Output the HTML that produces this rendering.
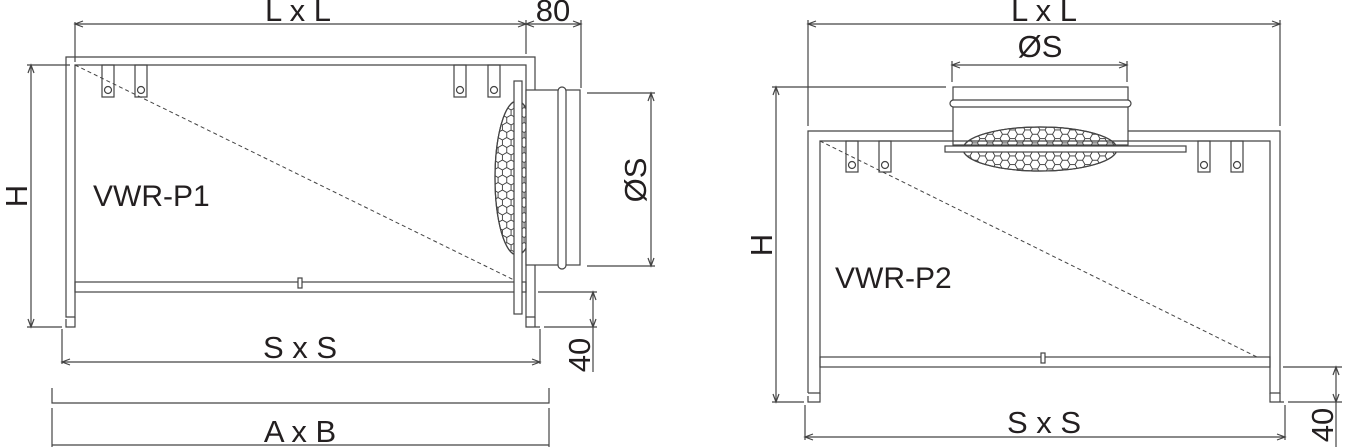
<!DOCTYPE html>
<html><head><meta charset="utf-8"><style>
html,body{margin:0;padding:0;background:#fff}
svg{display:block}
text{font-family:"Liberation Sans",sans-serif;fill:#231f20}
</style></head><body>
<svg width="1346" height="447" viewBox="0 0 1346 447" xmlns="http://www.w3.org/2000/svg">
<defs>
<pattern id="hex" width="6.93" height="12" patternUnits="userSpaceOnUse" patternTransform="scale(1.25)">
<path d="M3.46 2 L6.93 4 L6.93 8 L3.46 10 L0 8 L0 4 Z M3.46 0 L3.46 2 M3.46 10 L3.46 12" fill="none" stroke="#333" stroke-width="0.7"/>
</pattern>
<pattern id="hex2" width="6.93" height="12" patternUnits="userSpaceOnUse" patternTransform="rotate(90) scale(1.25)">
<path d="M3.46 2 L6.93 4 L6.93 8 L3.46 10 L0 8 L0 4 Z M3.46 0 L3.46 2 M3.46 10 L3.46 12" fill="none" stroke="#333" stroke-width="0.7"/>
</pattern>
</defs>
<g fill="none" stroke="#444" stroke-width="1.2">
<!-- LEFT -->
<line x1="75" y1="24" x2="526" y2="24"/><line x1="526" y1="24" x2="581" y2="24"/>
<line x1="75" y1="22" x2="75" y2="62"/><line x1="526" y1="20" x2="526" y2="54"/><line x1="581" y1="20" x2="581" y2="88"/>
<path d="M83 21 L75 24 L83 27 M518 21 L526 24 L518 27 M534 21 L526 24 L534 27 M573 21 L581 24 L573 27"/>
<path d="M66 317 L66 57 L535 57 L535 317 L526 317 L526 65 L75 65 L75 317 Z"/>
<path d="M75 317 L75 327 L66 327 L66 319 M535 317 L535 327 L540 327 M526 317 L526 327 L535 327"/>
<rect x="75" y="282" width="451" height="10"/>
<rect x="298" y="278" width="4" height="10" fill="#fff"/>
<rect x="102" y="65" width="12" height="32"/><circle cx="108" cy="90" r="3.5"/>
<rect x="135" y="65" width="12" height="32"/><circle cx="141" cy="90" r="3.5"/>
<rect x="454" y="65" width="12" height="32"/><circle cx="460" cy="90" r="3.5"/>
<rect x="488" y="65" width="12" height="32"/><circle cx="494" cy="90" r="3.5"/>
<line x1="75" y1="65" x2="514" y2="280" stroke-dasharray="4,3" stroke-width="1"/>
<ellipse cx="517" cy="178" rx="22" ry="77" fill="url(#hex)"/>
<ellipse cx="517" cy="178" rx="22" ry="77"/>
<rect x="514" y="81" width="8" height="233" fill="#fff"/>
<rect x="526" y="90" width="54" height="175" fill="#fff"/>
<rect x="558" y="87" width="8" height="182" rx="4" fill="#fff"/>
<line x1="587" y1="93" x2="655" y2="93"/><line x1="587" y1="266" x2="655" y2="266"/>
<line x1="651" y1="93" x2="651" y2="266"/>
<path d="M648 101 L651 93 L654 101 M648 258 L651 266 L654 258"/>
<line x1="31" y1="65" x2="31" y2="327"/><line x1="27" y1="65" x2="70" y2="65"/><line x1="27" y1="327" x2="62" y2="327"/>
<path d="M28 73 L31 65 L34 73 M28 319 L31 327 L34 319"/>
<line x1="538" y1="292" x2="597" y2="292"/><line x1="544" y1="327" x2="597" y2="327"/><line x1="593" y1="292" x2="593" y2="372"/>
<path d="M590 300 L593 292 L596 300 M590 319 L593 327 L596 319"/>
<line x1="62" y1="329" x2="62" y2="364"/><line x1="540" y1="329" x2="540" y2="364"/><line x1="62" y1="362" x2="540" y2="362"/>
<path d="M70 359 L62 362 L70 365 M532 359 L540 362 L532 365"/>
<path d="M52 388 L52 403 L549 403 L549 388"/>
<line x1="52" y1="408" x2="52" y2="447"/><line x1="549" y1="408" x2="549" y2="447"/><line x1="52" y1="445" x2="549" y2="445"/>

<!-- RIGHT -->
<line x1="808" y1="24" x2="1280" y2="24"/><line x1="808" y1="20" x2="808" y2="126"/><line x1="1280" y1="20" x2="1280" y2="126"/>
<path d="M816 21 L808 24 L816 27 M1272 21 L1280 24 L1272 27"/>
<line x1="952" y1="65" x2="1127" y2="65"/><line x1="952" y1="61" x2="952" y2="82"/><line x1="1127" y1="61" x2="1127" y2="82"/>
<path d="M960 62 L952 65 L960 68 M1119 62 L1127 65 L1119 68"/>
<rect x="953" y="87" width="175" height="58" fill="#fff"/>
<rect x="950" y="100" width="181" height="7" rx="3.5" fill="#fff"/>
<path d="M808 393 L808 131 L953 131 M1128 131 L1280 131 L1280 393 L1270 393 L1270 141 L820 141 L820 393 L808 393"/>
<path d="M820 393 L820 402 L808 402 L808 396 M1280 393 L1280 402 L1284 402 M1270 393 L1270 402 L1280 402"/>
<rect x="820" y="357" width="450" height="10"/>
<rect x="1041" y="353" width="4" height="10" fill="#fff"/>
<rect x="846" y="141" width="12" height="31"/><circle cx="852" cy="165" r="3.5"/>
<rect x="879" y="141" width="12" height="31"/><circle cx="885" cy="165" r="3.5"/>
<rect x="1198" y="141" width="12" height="31"/><circle cx="1204" cy="165" r="3.5"/>
<rect x="1231" y="141" width="12" height="31"/><circle cx="1237" cy="165" r="3.5"/>
<line x1="820" y1="141" x2="1257" y2="357" stroke-dasharray="4,3" stroke-width="1"/>
<ellipse cx="1040" cy="149" rx="77" ry="22" fill="url(#hex2)"/>
<ellipse cx="1040" cy="149" rx="77" ry="22"/>
<rect x="945" y="146" width="241" height="6" fill="#fff"/>
<line x1="776" y1="87" x2="776" y2="402"/><line x1="772" y1="87" x2="946" y2="87"/><line x1="772" y1="402" x2="804" y2="402"/>
<path d="M773 95 L776 87 L779 95 M773 394 L776 402 L779 394"/>
<line x1="1283" y1="367" x2="1342" y2="367"/><line x1="1288" y1="402" x2="1342" y2="402"/><line x1="1336" y1="367" x2="1336" y2="447"/>
<path d="M1333 375 L1336 367 L1339 375 M1333 394 L1336 402 L1339 394"/>
<line x1="805" y1="405" x2="805" y2="440"/><line x1="1285" y1="405" x2="1285" y2="440"/><line x1="805" y1="437" x2="1285" y2="437"/>
<path d="M813 434 L805 437 L813 440 M1277 434 L1285 437 L1277 440"/>
</g>
<g font-size="31" text-anchor="middle">
<text x="298" y="21">L x L</text>
<text x="553" y="21">80</text>
<text x="300" y="358">S x S</text>
<text x="300" y="442">A x B</text>
<text x="93" y="206" text-anchor="start" font-size="30">VWR-P1</text>
<text transform="translate(27,196) rotate(-90)">H</text>
<text transform="translate(646,180) rotate(-90)">ØS</text>
<text transform="translate(590,355) rotate(-90)">40</text>
<text x="1044" y="21">L x L</text>
<text x="1040" y="57">ØS</text>
<text x="1044" y="433">S x S</text>
<text x="835" y="288" text-anchor="start" font-size="30">VWR-P2</text>
<text transform="translate(772,245) rotate(-90)">H</text>
<text transform="translate(1333,425) rotate(-90)">40</text>
</g>
</svg>
</body></html>
